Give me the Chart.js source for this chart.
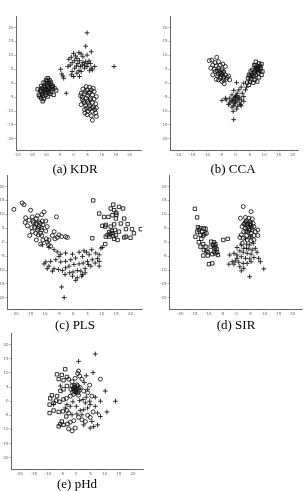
<!DOCTYPE html>
<html>
<head>
<meta charset="utf-8">
<script src="https://cdn.jsdelivr.net/npm/chart.js@4"></script>
<style>
  html, body { margin: 0; padding: 0; background: #fff; }
  body { width: 308px; height: 491px; position: relative; overflow: hidden; }
  .panel { position: absolute; }
  .caption { position: absolute; font-family: "Liberation Serif", serif; font-size: 13px; line-height: 14px; color: #000; transform: translateX(-50%); white-space: nowrap; -webkit-font-smoothing: antialiased; }
</style>
</head>
<body>
<script>
// tick labels shared by every panel
const tickValues = [-20, -15, -10, -5, 0, 5, 10, 15, 20];

// (a) KDR
const kdrSquares = [[-9.2,1.8],[-9.8,1.2],[-8.6,1.2],[-10.7,0.2],[-8.8,0],[-8.0,-0.2],[-11.5,-1.0],[-10.4,-1.0],[-9.2,-1.2],[-7.4,-1.0],[-11.2,-1.8],[-10.0,-2.1],[-8.6,-1.8],[-6.8,-1.8],[-11.9,-2.6],[-10.7,-3.0],[-9.5,-2.6],[-8.0,-3.0],[-6.2,-2.6],[-12.4,-4.2],[-11.2,-3.8],[-9.8,-4.2],[-8.3,-3.8],[-7.1,-4.2],[-11.5,-5.4],[-10.6,-5.7],[-12.1,-4.8],[-9.2,-4.8],[-11.0,-6.5],[-8.8,-3.3],[-7.6,-2.1],[-10.0,0],[-9.4,0.7],[-10.3,-2.4],[-9.0,-2.3],[-11.5,-3.0],[-10.6,-1.5],[-9.6,-0.5],[-8.2,0.5],[-12.8,-2.2],[-11.0,-4.6],[-7.7,-1.3],[-10.0,-3.5]];
const kdrCircles = [[4.5,-1.2],[5.7,-1.4],[3.3,-2.1],[4.8,-2.4],[6.3,-2.4],[7.3,-3.0],[2.7,-3.6],[3.9,-3.8],[5.5,-3.6],[6.7,-4.2],[8.1,-4.8],[3.1,-5.0],[4.5,-5.4],[6.0,-5.4],[7.3,-5.7],[3.6,-6.5],[5.1,-6.5],[6.7,-6.9],[7.9,-7.4],[2.7,-7.7],[4.3,-8.1],[5.7,-8.1],[7.1,-8.6],[8.1,-8.9],[3.9,-9.5],[5.1,-10.1],[6.7,-10.1],[7.9,-10.7],[4.8,-11.3],[6.3,-11.7],[8.1,-11.9],[6.7,-13.3],[5.7,-9.3],[4.0,-10.7],[3.2,-6.0],[7.5,-9.5],[5.0,-4.5],[4.2,-3.0],[6.0,-6.0],[5.4,-7.2],[3.8,-7.0],[6.4,-8.8],[4.6,-9.0],[5.8,-3.2],[2.5,-4.5],[7.0,-1.8]];
const kdrPlus = [[4.8,18.1],[4.3,13.3],[6.3,11.3],[0,10.7],[1.9,11.0],[2.7,10.5],[0.7,9.8],[-0.8,9.3],[-1.7,8.6],[1.2,8.9],[3.3,9.5],[4.8,10.1],[2.1,8.1],[0.4,8.1],[-0.5,7.4],[1.5,7.1],[3.3,7.4],[4.3,7.7],[5.5,8.0],[6.0,7.1],[3.1,6.5],[2.4,6.0],[1.0,6.2],[-1.2,6.5],[-2.0,6.0],[0.4,5.4],[-0.5,4.2],[1.9,4.5],[3.9,5.4],[4.8,6.0],[6.3,5.4],[7.5,6.0],[6.7,4.8],[5.7,4.5],[2.7,4.2],[1.2,3.6],[-0.8,3.0],[0,2.4],[2.1,2.4],[-4.6,5.0],[-4.2,3.3],[-3.5,1.8],[-3.8,2.6],[-2.6,-3.6],[14.4,6.0],[3.9,6.5],[5.1,7.1]];

// (b) CCA
const ccaCircles = [[-6.5,9.3],[-8.2,8.3],[-9.1,8.1],[-7.1,7.4],[-5.9,7.7],[-7.9,6.5],[-6.7,6.2],[-5.3,6.5],[-8.6,5.4],[-7.4,5.0],[-5.9,5.4],[-4.7,4.8],[-7.1,4.2],[-5.5,3.8],[-4.1,4.2],[-7.9,3.0],[-6.2,2.6],[-4.7,3.0],[-3.5,3.0],[-5.3,1.8],[-4.1,1.2],[-3.2,1.4],[-4.7,0.6],[-3.9,-0.2],[-2.0,1.2],[-2.4,2.6],[-6.7,1.4],[-5.9,1.2],[-3.5,6.0],[-4.4,6.9],[-2.9,2.1],[-5.0,3.6],[-4.6,3.2],[-5.6,4.6],[-4.2,3.8],[-6.0,3.4],[-5.2,2.4],[-4.0,2.2],[-6.4,4.4]];
const ccaSquares = [[7.1,7.7],[8.2,7.1],[9.1,6.9],[6.5,6.5],[7.9,6.0],[8.8,5.4],[5.9,4.8],[7.4,4.8],[8.6,4.5],[5.3,4.2],[6.5,3.8],[7.9,3.8],[4.7,3.0],[5.9,2.6],[7.1,3.0],[4.4,1.8],[5.5,1.4],[6.7,1.2],[8.2,2.1],[5.1,0.6],[6.2,0.2],[4.1,0.2],[7.6,0.6],[9.1,3.0],[4.7,-0.6],[8.6,6.2],[7.6,5.4],[6.5,2.4],[9.4,4.2],[7.2,5.6],[7.8,5.0],[6.8,4.4],[7.0,6.4],[5.0,2.4],[5.6,3.0],[8.0,4.6]];
const ccaPlus = [[0.4,0.2],[2.9,0],[3.9,-1.4],[2.0,-1.4],[1.2,-2.4],[-0.6,-2.6],[0.6,-3.6],[2.4,-3.6],[-1.2,-4.2],[0,-4.8],[1.5,-5.0],[2.9,-4.8],[-2.0,-5.4],[-0.6,-5.7],[0.8,-6.0],[2.1,-6.0],[-3.2,-6.0],[-4.7,-6.2],[-1.5,-6.5],[0,-6.9],[1.5,-7.1],[2.9,-6.5],[-2.4,-7.7],[-0.6,-8.1],[0.8,-8.3],[2.0,-8.1],[-1.2,-8.6],[0.4,-9.3],[-0.8,-10.1],[-0.6,-13.1],[-2.0,-7.1],[-3.5,-5.4],[1.8,-7.7],[3.5,-2.4],[-0.2,-5.2],[0.4,-4.4],[-1.0,-6.2],[1.0,-5.4],[-0.4,-7.4],[0.2,-6.4]];

// (c) PLS
const plsCircles = [[-20.6,11.8],[-17.7,14.1],[-17.1,13.5],[-14.8,11.5],[-16.5,8.8],[-14.2,9.1],[-12.4,9.5],[-10.9,9.9],[-10.1,10.9],[-16.7,7.1],[-15.3,7.9],[-14.0,7.6],[-12.8,8.5],[-11.9,7.3],[-10.7,7.6],[-9.5,7.6],[-15.9,5.9],[-14.4,5.2],[-13.0,6.4],[-11.9,5.6],[-10.5,6.2],[-9.0,5.6],[-15.1,2.4],[-14.2,3.8],[-12.4,4.4],[-10.9,4.4],[-9.5,4.0],[-12.8,0.8],[-11.3,3.2],[-10.5,0.8],[-9.3,1.2],[-8.4,0.8],[-7.2,2.4],[-5.8,9.1],[-6.3,1.2],[-5.5,1.7],[-4.9,2.6],[-4.0,2.0],[-2.6,2.0],[-2.0,1.7],[-12.1,2.6],[-10.9,2.4],[-8.6,-0.9],[-7.8,-1.5],[-11.3,-0.7],[-9.0,0],[-6.6,3.8],[-13.0,3.2],[-12.6,6.8],[-13.4,5.4],[-11.4,6.8],[-12.2,5.0],[-13.8,7.0],[-11.0,5.2]];
const plsSquares = [[7.0,15.0],[9.1,10.3],[14.0,13.5],[13.1,12.1],[14.3,11.5],[16.0,12.7],[15.1,9.9],[13.7,9.7],[12.3,9.1],[14.9,8.5],[17.4,12.1],[17.8,8.5],[10.8,9.1],[11.4,6.2],[11.2,5.6],[13.1,5.6],[14.3,6.4],[16.6,6.7],[18.4,4.7],[20.5,4.7],[13.5,4.0],[14.9,2.6],[16.0,3.8],[12.0,2.6],[11.4,2.0],[17.8,1.7],[18.4,2.0],[15.5,0.8],[14.3,1.2],[11.2,-0.7],[6.7,1.4],[10.2,5.9],[12.6,2.0],[13.7,3.2],[19.0,6.5],[23.6,4.7],[21.2,3.2],[20.0,1.6],[13.0,3.0],[14.0,2.2],[12.6,3.6],[15.0,10.6],[14.6,4.4]];
const plsPlus = [[-10.7,-0.9],[-8.4,-1.9],[-6.6,-2.7],[-5.5,-3.5],[-4.3,-4.3],[-4.9,-5.1],[-2.6,-3.9],[-0.2,-4.3],[2.1,-3.6],[3.8,-3.1],[4.7,-3.6],[6.5,-2.7],[7.9,-3.9],[9.1,-4.5],[9.7,-2.1],[5.6,-4.5],[3.3,-5.1],[0.9,-5.7],[-0.8,-6.3],[-2.6,-6.9],[-4.3,-7.1],[-6.0,-6.3],[-7.8,-6.9],[-9.5,-7.1],[-10.1,-7.8],[-8.4,-8.6],[-6.6,-9.5],[-5.1,-9.8],[-3.7,-10.2],[-2.6,-9.2],[-1.4,-8.6],[0.3,-8.0],[2.1,-7.8],[3.5,-7.5],[5.0,-6.9],[6.7,-6.3],[8.5,-5.9],[7.7,-7.5],[9.1,-8.6],[6.2,-8.6],[4.2,-9.5],[2.7,-10.4],[1.5,-10.2],[0,-10.7],[-1.2,-11.0],[-2.8,-11.6],[-0.2,-12.2],[1.5,-12.8],[3.0,-12.2],[0.9,-13.7],[-4.0,-16.1],[-3.1,-19.9],[-7.2,-10.4],[-9.0,-9.5],[9.1,-6.9],[5.3,-8.0],[3.3,-11.6],[4.2,-11.0],[10.2,-1.9]];

// (d) SIR
const sirSquares = [[-14.8,12.0],[-14.0,8.9],[-13.7,5.4],[-13.0,5.0],[-13.4,4.4],[-11.6,5.0],[-11.0,4.8],[-14.6,2.0],[-12.8,2.6],[-11.8,2.4],[-11.4,2.9],[-10.7,3.2],[-12.5,1.2],[-13.4,0],[-11.8,-0.7],[-12.8,-1.6],[-11.0,-1.6],[-11.6,-2.8],[-10.7,-3.1],[-10.2,-3.6],[-11.8,-4.8],[-9.0,0.2],[-8.0,0],[-8.3,-1.0],[-7.5,-0.7],[-7.8,-2.2],[-7.1,-2.4],[-8.0,-3.4],[-7.5,-4.0],[-6.9,-3.6],[-8.6,-4.3],[-6.6,-4.6],[-9.8,-7.9],[-8.6,-7.6],[-4.7,0.8],[-3.1,1.2],[-14.0,3.8],[-12.2,3.8],[-10.2,-4.8],[-9.2,-1.6],[-7.5,-1.6]];
const sirCircles = [[2.4,12.8],[5.2,11.0],[1.4,8.6],[3.2,8.9],[4.4,8.6],[5.6,8.4],[3.6,7.7],[4.7,7.4],[5.9,6.8],[2.6,6.5],[3.8,6.2],[5.0,6.0],[6.2,5.6],[2.0,5.6],[3.2,5.0],[4.4,4.8],[5.6,4.4],[2.6,3.8],[4.0,3.6],[5.2,3.2],[6.7,3.8],[7.6,4.4],[1.7,2.6],[3.6,2.4],[5.0,2.0],[6.2,2.4],[7.6,2.4],[2.4,1.4],[3.8,0.8],[5.2,0.5],[1.2,1.7],[2.0,-0.4],[6.2,0.8],[4.4,5.6],[5.0,6.8],[3.2,7.2],[4.0,5.4],[4.6,4.2],[3.4,4.0],[4.8,6.4],[3.0,6.8],[5.4,5.2]];
const sirPlus = [[5.0,2.0],[3.2,1.2],[0.2,-1.9],[1.7,-1.0],[3.6,-0.7],[4.7,-1.0],[6.0,-0.4],[2.6,-2.2],[4.4,-2.4],[5.6,-2.8],[6.7,-2.2],[1.2,-3.1],[2.4,-3.6],[3.8,-4.0],[5.2,-4.3],[-0.9,-4.0],[-2.4,-4.6],[0.2,-4.6],[1.7,-5.2],[3.2,-5.8],[4.7,-6.0],[6.2,-5.5],[-2.7,-7.9],[-1.5,-7.0],[-0.4,-6.7],[0.8,-7.2],[2.4,-7.6],[3.8,-7.6],[5.2,-7.0],[1.2,-8.8],[2.6,-9.4],[1.7,-10.3],[4.7,-12.4],[8.5,-7.0],[9.7,-9.6],[7.3,-3.6],[7.9,-5.8],[3.6,-2.2],[0.2,-5.8],[-0.9,-7.9]];

// (e) pHd
const phdSquares = [[-3.9,11.3],[-6.8,9.5],[-5.1,9.3],[-3.3,8.6],[-6.2,7.8],[-4.5,7.4],[-3.3,5.4],[-4.5,4.2],[-5.6,3.6],[-6.8,1.8],[-8.6,2.1],[-9.2,1.0],[-7.1,0.2],[-8.0,-0.6],[-9.4,-1.2],[-5.9,-0.2],[-4.5,0.6],[-9.4,-4.2],[-8.0,-3.3],[-6.2,-3.8],[-4.7,-3.6],[-5.1,-7.2],[-4.5,-8.4],[-5.6,-8.1],[-6.2,-8.9],[-3.5,-5.4],[-3.1,-8.1]];
const phdCircles = [[-2.7,7.8],[-1.5,6.9],[-0.4,8.1],[1.2,8.9],[0.8,10.7],[0.5,9.8],[2.0,7.8],[-1.5,5.4],[-0.9,4.8],[0,4.5],[-0.7,3.8],[-1.9,4.2],[0.5,5.4],[1.4,4.8],[-3.5,1.0],[-2.1,1.8],[-0.9,2.4],[0.8,2.1],[2.6,3.6],[4.0,3.0],[5.5,1.8],[4.7,5.7],[8.5,7.8],[-3.3,-3.3],[-2.7,-4.2],[-2.1,-7.4],[-0.9,-6.9],[0.8,-5.7],[2.0,-6.6],[3.2,-7.2],[4.0,-5.0],[4.9,-5.7],[5.9,-3.8],[-1.5,-10.5],[-0.4,-9.5],[-2.7,-9.8],[-0.4,5.0],[0.3,4.0],[-1.0,4.4],[0.8,4.6],[-0.2,3.4],[0.2,5.8],[-0.6,5.6],[1.0,3.8],[-1.3,3.2],[0.6,3.0]];
const phdPlus = [[0.8,14.1],[6.7,16.7],[5.9,10.1],[10.2,3.6],[13.8,0],[10.8,-3.8],[7.5,-8.4],[8.5,-5.4],[4.9,-9.5],[2.6,-8.4],[1.2,0.2],[3.2,-0.6],[4.0,-2.4],[4.9,-1.2],[6.7,-1.8],[7.5,-4.2],[5.5,-7.2],[1.4,-3.3],[0,-1.8],[-1.2,-0.2],[3.5,1.4],[2.4,0.6],[0.2,-4.5],[8.5,0],[6.7,1.4],[4.0,4.2],[2.8,6.6],[3.5,9.0],[-2.1,-1.8],[-3.9,-2.4],[-1.5,-4.8],[2.0,-4.8],[6.1,-9.0],[4.7,0],[-0.4,3.0],[-5.6,5.4],[-8.0,-1.2],[-3.3,-1.2],[2.6,-3.0]];

const panels = [
  { caption: '(a) KDR', area: [16, 16, 141, 150], xr: [-20.5, 24], cap: [75, 162], sets: [kdrSquares, kdrCircles, kdrPlus] },
  { caption: '(b) CCA', area: [170, 16, 298, 150], xr: [-22.8, 21.8], cap: [233, 162], sets: [ccaSquares, ccaCircles, ccaPlus] },
  { caption: '(c) PLS', area: [7, 175, 142, 309], xr: [-23, 24], cap: [75, 318], sets: [plsSquares, plsCircles, plsPlus] },
  { caption: '(d) SIR', area: [169, 175, 302, 309], xr: [-24, 23.3], cap: [236, 318], sets: [sirSquares, sirCircles, sirPlus] },
  { caption: '(e) pHd', area: [11, 333, 143, 469], xr: [-23, 23.5], cap: [77, 477], sets: [phdSquares, phdCircles, phdPlus] }
];

const styles = [
  { pointStyle: 'rect', pointRadius: 2.4 },
  { pointStyle: 'circle', pointRadius: 2 },
  { pointStyle: 'cross', pointRadius: 2.4 }
];

const padL = 12, padT = 3, padR = 3, padB = 12;

panels.forEach(p => {
  const [L, T, R, B] = p.area;
  const c = document.createElement('canvas');
  c.className = 'panel';
  c.style.left = (L - padL) + 'px';
  c.style.top = (T - padT) + 'px';
  c.style.width = (R - L + padL + padR) + 'px';
  c.style.height = (B - T + padT + padB) + 'px';
  c.width = R - L + padL + padR;
  c.height = B - T + padT + padB;
  document.body.appendChild(c);

  const cap = document.createElement('div');
  cap.className = 'caption';
  cap.style.left = p.cap[0] + 'px';
  cap.style.top = p.cap[1] + 'px';
  cap.textContent = p.caption;
  document.body.appendChild(cap);

  const axis = (min, max, isX) => ({
    type: 'linear',
    min, max,
    afterBuildTicks: s => { s.ticks = tickValues.map(v => ({ value: v })); },
    afterFit: s => { if (isX) s.height = padB; else s.width = padL; },
    ticks: { font: { size: 4, family: 'DejaVu Sans' }, color: '#666', padding: 1, autoSkip: false, maxRotation: 0 },
    grid: { drawOnChartArea: false, drawTicks: true, tickLength: 1.5, color: '#777', lineWidth: 0.6 },
    border: { display: true, color: '#666', width: 1 }
  });

  new Chart(c, {
    type: 'scatter',
    data: {
      datasets: p.sets.map((pts, i) => ({
        data: pts.map(([x, y]) => ({ x, y })),
        pointStyle: styles[i].pointStyle,
        pointRadius: styles[i].pointRadius,
        pointHoverRadius: styles[i].pointRadius,
        borderColor: '#111',
        backgroundColor: 'rgba(0,0,0,0)',
        borderWidth: 0.85
      }))
    },
    options: {
      responsive: false,
      animation: false,
      layout: { autoPadding: false, padding: { left: 0, top: padT, right: padR, bottom: 0 } },
      plugins: { legend: { display: false }, tooltip: { enabled: false } },
      scales: {
        x: axis(p.xr[0], p.xr[1], true),
        y: axis(-24, 24, false)
      }
    }
  });
});
</script>
</body>
</html>
